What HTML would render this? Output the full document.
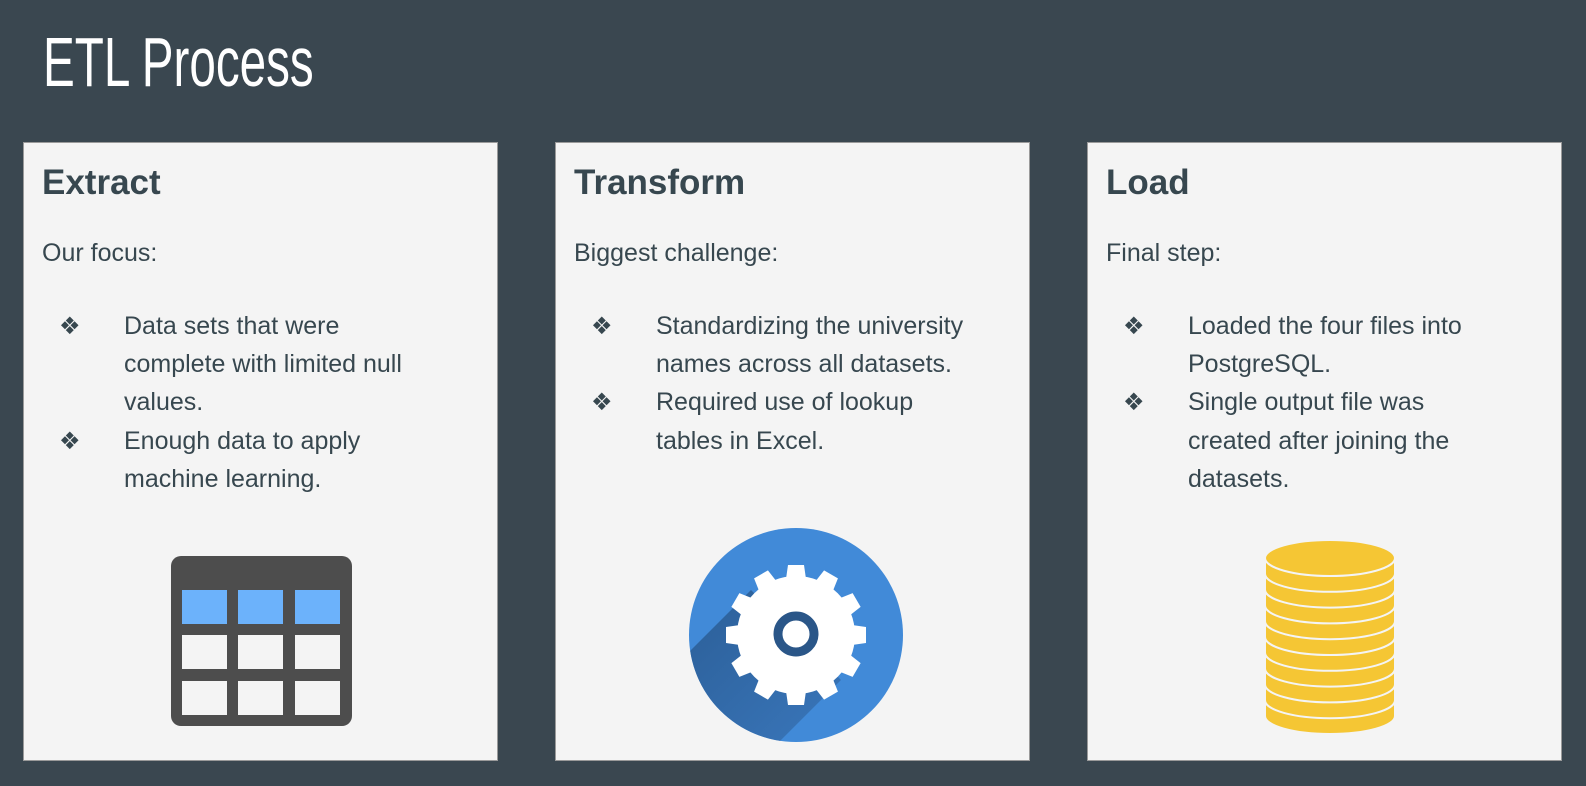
<!DOCTYPE html>
<html><head><meta charset="utf-8"><style>
html,body{margin:0;width:1586px;height:786px;overflow:hidden}
body{background:#3a4750;position:relative;font-family:"Liberation Sans",sans-serif;color:#37474f}
.title{position:absolute;left:43px;top:22px;font-size:70px;line-height:80px;color:#fff;transform:scaleX(0.68);transform-origin:0 0;white-space:nowrap}
.panel{position:absolute;top:142px;width:473px;height:617px;background:#f4f4f4;border:1px solid #9a9a9a}
.h{position:absolute;left:18px;top:20px;font-size:35px;font-weight:bold;line-height:40px}
.sub{position:absolute;left:18px;top:95px;font-size:25px;line-height:30px}
.list{position:absolute;left:0;top:164px;font-size:25px;line-height:38.2px}
.li{position:relative;padding-left:100px;white-space:nowrap}
.li span{position:absolute;left:35px;top:0;font-family:"DejaVu Sans",sans-serif;font-size:24px}
svg{position:absolute;left:0;top:0}
</style></head><body>
<div class="title">ETL Process</div>

<div class="panel" style="left:23px">
<div class="h">Extract</div>
<div class="sub">Our focus:</div>
<div class="list">
<div class="li"><span>❖</span>Data sets that were<br>complete with limited null<br>values.</div>
<div class="li"><span>❖</span>Enough data to apply<br>machine learning.</div>
</div></div>

<div class="panel" style="left:555px">
<div class="h">Transform</div>
<div class="sub">Biggest challenge:</div>
<div class="list">
<div class="li"><span>❖</span>Standardizing the university<br>names across all datasets.</div>
<div class="li"><span>❖</span>Required use of lookup<br>tables in Excel.</div>
</div></div>

<div class="panel" style="left:1087px">
<div class="h">Load</div>
<div class="sub">Final step:</div>
<div class="list">
<div class="li"><span>❖</span>Loaded the four files into<br>PostgreSQL.</div>
<div class="li"><span>❖</span>Single output file was<br>created after joining the<br>datasets.</div>
</div></div>

<svg width="1586" height="786" viewBox="0 0 1586 786">
<defs>
<clipPath id="cc"><circle cx="796" cy="635" r="107"/></clipPath>
<linearGradient id="sg" x1="0" y1="0" x2="1" y2="1">
<stop offset="0" stop-color="#234f80"/><stop offset="1" stop-color="#3d7bc2"/></linearGradient>
</defs>
<!-- table -->
<rect x="171" y="556" width="181" height="170" rx="10" fill="#4d4d4d"/>
<g fill="#6cb2fb">
<rect x="182" y="590" width="45" height="34"/><rect x="238" y="590" width="45" height="34"/><rect x="295" y="590" width="45" height="34"/></g>
<g fill="#f4f4f4">
<rect x="182" y="635" width="45" height="34"/><rect x="238" y="635" width="45" height="34"/><rect x="295" y="635" width="45" height="34"/>
<rect x="182" y="681" width="45" height="34"/><rect x="238" y="681" width="45" height="34"/><rect x="295" y="681" width="45" height="34"/></g>
<!-- gear -->
<circle cx="796" cy="635" r="107" fill="#418ad8"/>
<polygon clip-path="url(#cc)" points="751,590 841,680 690,831 600,741" fill="url(#sg)" opacity="0.85"/>
<g fill="#fff">
<circle cx="796" cy="635" r="59"/>
<polygon id="t" points="785,586 788,565 804,565 807,586"/>
<use href="#t" transform="rotate(30 796 635)"/><use href="#t" transform="rotate(60 796 635)"/>
<use href="#t" transform="rotate(90 796 635)"/><use href="#t" transform="rotate(120 796 635)"/>
<use href="#t" transform="rotate(150 796 635)"/><use href="#t" transform="rotate(180 796 635)"/>
<use href="#t" transform="rotate(210 796 635)"/><use href="#t" transform="rotate(240 796 635)"/>
<use href="#t" transform="rotate(270 796 635)"/><use href="#t" transform="rotate(300 796 635)"/>
<use href="#t" transform="rotate(330 796 635)"/>
</g>
<circle cx="796" cy="634" r="18" fill="none" stroke="#2a5688" stroke-width="9"/>
<!-- coins -->
<g fill="#f5c634" stroke="#f4f4f4" stroke-width="2">
<path d="M1265,700.2 L1265,716 A65,18 0 0 0 1395,716 L1395,700.2 Z"/>
<path d="M1265,684.4 L1265,700.2 A65,18 0 0 0 1395,700.2 L1395,684.4 Z"/>
<path d="M1265,668.6 L1265,684.4 A65,18 0 0 0 1395,684.4 L1395,668.6 Z"/>
<path d="M1265,652.8 L1265,668.6 A65,18 0 0 0 1395,668.6 L1395,652.8 Z"/>
<path d="M1265,637 L1265,652.8 A65,18 0 0 0 1395,652.8 L1395,637 Z"/>
<path d="M1265,621.2 L1265,637 A65,18 0 0 0 1395,637 L1395,621.2 Z"/>
<path d="M1265,605.4 L1265,621.2 A65,18 0 0 0 1395,621.2 L1395,605.4 Z"/>
<path d="M1265,589.6 L1265,605.4 A65,18 0 0 0 1395,605.4 L1395,589.6 Z"/>
<path d="M1265,573.8 L1265,589.6 A65,18 0 0 0 1395,589.6 L1395,573.8 Z"/>
<path d="M1265,558 L1265,573.8 A65,18 0 0 0 1395,573.8 L1395,558 Z"/>
<ellipse cx="1330" cy="558" rx="65" ry="18"/>
</g>
</svg>
</body></html>
